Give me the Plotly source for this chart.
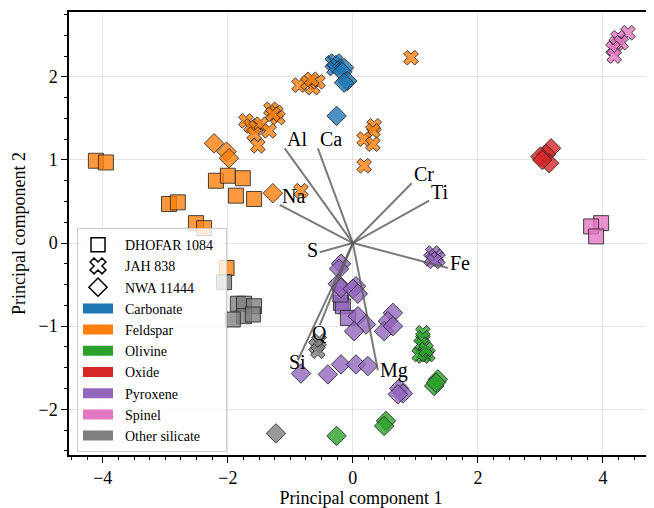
import plotly.graph_objects as go

# ---------------- data ----------------
METEORITES = ["DHOFAR 1084", "JAH 838", "NWA 11444"]
MINERALS = ["Carbonate", "Feldspar", "Olivine", "Oxide", "Pyroxene", "Spinel", "Other silicate"]

CARB_JAH_X = [-0.33, -0.28, -0.25, -0.30]
CARB_JAH_Y = [2.17, 2.19, 2.13, 2.10]
CARB_NWA_X = [-0.14, -0.17, -0.09, -0.14, -0.26]
CARB_NWA_Y = [2.11, 2.06, 1.95, 1.93, 1.53]

FELD_DHO_X = [-4.11, -3.95, -2.94, -2.80, -2.51, -2.38, -2.19, -2.00, -1.76, -1.87, -1.58, -2.02]
FELD_DHO_Y = [0.99, 0.97, 0.47, 0.49, 0.24, 0.18, 0.75, 0.81, 0.78, 0.57, 0.53, -0.30]
FELD_JAH_X = [0.93, -0.86, -0.72, -0.64, -0.56, -0.66, -1.31, -1.23, -1.20, -1.28, -1.71, -1.63,
              -1.55, -1.47, -1.34, -1.58, -1.52, 0.34, 0.32, 0.18, 0.32, 0.18, -0.83]
FELD_JAH_Y = [2.23, 1.90, 1.93, 1.87, 1.94, 1.97, 1.61, 1.57, 1.51, 1.55, 1.47, 1.41,
              1.39, 1.43, 1.35, 1.31, 1.17, 1.41, 1.35, 1.25, 1.19, 0.93, 0.63]
FELD_NWA_X = [-2.22, -2.02, -1.98, -1.28]
FELD_NWA_Y = [1.20, 1.10, 1.02, 0.60]

OLIV_JAH_X = [1.12, 1.12, 1.09, 1.14, 1.20, 1.12, 1.06, 1.17]
OLIV_JAH_Y = [-1.08, -1.14, -1.22, -1.33, -1.34, -1.36, -1.34, -1.28]
OLIV_NWA_X = [-0.26, 0.53, 0.50, 1.36, 1.30, 1.33]
OLIV_NWA_Y = [-2.32, -2.14, -2.20, -1.64, -1.72, -1.68]

OXID_NWA_X = [3.17, 3.09, 3.14, 3.00, 3.03]
OXID_NWA_Y = [1.14, 1.07, 0.96, 1.04, 1.00]

PYRO_DHO_X = [-0.19, -0.16, -0.08, -0.20]
PYRO_DHO_Y = [-0.72, -0.76, -0.90, -0.62]
PYRO_JAH_X = [1.28, 1.33, 1.25, 1.36, 1.30]
PYRO_JAH_Y = [-0.12, -0.16, -0.19, -0.19, -0.22]
PYRO_NWA_X = [-0.19, -0.22, -0.24, -0.19, 0.05, 0.00, 0.08, 0.08, 0.21, 0.02, 0.64, 0.56,
              0.50, 0.64, -0.83, -0.40, -0.19, 0.05, 0.24, 0.74, 0.80, 0.72]
PYRO_NWA_Y = [-0.25, -0.31, -0.49, -0.54, -0.52, -0.55, -0.61, -0.88, -0.98, -1.06, -0.84, -0.94,
              -1.06, -1.00, -1.57, -1.58, -1.46, -1.46, -1.48, -1.75, -1.81, -1.82]

SPIN_DHO_X = [3.97, 3.81, 3.89]
SPIN_DHO_Y = [0.24, 0.20, 0.08]
SPIN_JAH_X = [4.40, 4.24, 4.21, 4.29, 4.16, 4.18]
SPIN_JAH_Y = [2.53, 2.47, 2.40, 2.41, 2.34, 2.25]

OTHR_DHO_X = [-1.84, -1.74, -1.58, -1.74, -1.60, -2.06, -1.92]
OTHR_DHO_Y = [-0.73, -0.73, -0.76, -0.88, -0.86, -0.47, -0.92]
OTHR_JAH_X = [-0.54, -0.59, -0.56]
OTHR_JAH_Y = [-1.18, -1.24, -1.30]
OTHR_NWA_X = [-1.23]
OTHR_NWA_Y = [-2.29]

LOAD_NAMES = ["Al", "Ca", "Cr", "Ti", "Na", "S", "Fe", "Mg", "Si", "Q"]
LOAD_X = [-1.09, -0.56, 0.94, 1.22, -1.17, -0.53, 1.52, 0.40, -0.88, -0.53]
LOAD_Y = [1.14, 1.14, 0.72, 0.51, 0.46, -0.11, -0.30, -1.53, -1.41, -0.99]

# ---------------- styles ----------------
COLORS = {
    "Carbonate": "31,119,180", "Feldspar": "255,127,14", "Olivine": "44,160,44",
    "Oxide": "214,39,40", "Pyroxene": "148,103,189", "Spinel": "227,119,194",
    "Other silicate": "127,127,127",
}
SYMBOLS = {"DHOFAR 1084": "square", "JAH 838": "x", "NWA 11444": "diamond"}
SIZES = {"DHOFAR 1084": 15, "JAH 838": 13, "NWA 11444": 15}
FONT = "Liberation Serif, Times New Roman, serif"

GROUPS = [
    ("Carbonate", "JAH 838", CARB_JAH_X, CARB_JAH_Y),
    ("Carbonate", "NWA 11444", CARB_NWA_X, CARB_NWA_Y),
    ("Feldspar", "DHOFAR 1084", FELD_DHO_X, FELD_DHO_Y),
    ("Feldspar", "JAH 838", FELD_JAH_X, FELD_JAH_Y),
    ("Feldspar", "NWA 11444", FELD_NWA_X, FELD_NWA_Y),
    ("Olivine", "JAH 838", OLIV_JAH_X, OLIV_JAH_Y),
    ("Olivine", "NWA 11444", OLIV_NWA_X, OLIV_NWA_Y),
    ("Oxide", "NWA 11444", OXID_NWA_X, OXID_NWA_Y),
    ("Pyroxene", "DHOFAR 1084", PYRO_DHO_X, PYRO_DHO_Y),
    ("Pyroxene", "JAH 838", PYRO_JAH_X, PYRO_JAH_Y),
    ("Pyroxene", "NWA 11444", PYRO_NWA_X, PYRO_NWA_Y),
    ("Spinel", "DHOFAR 1084", SPIN_DHO_X, SPIN_DHO_Y),
    ("Spinel", "JAH 838", SPIN_JAH_X, SPIN_JAH_Y),
    ("Other silicate", "DHOFAR 1084", OTHR_DHO_X, OTHR_DHO_Y),
    ("Other silicate", "JAH 838", OTHR_JAH_X, OTHR_JAH_Y),
    ("Other silicate", "NWA 11444", OTHR_NWA_X, OTHR_NWA_Y),
]

fig = go.Figure()

for mineral, met, xs, ys in GROUPS:
    fig.add_trace(go.Scatter(
        x=xs, y=ys, mode="markers", showlegend=False,
        marker=dict(symbol=SYMBOLS[met], size=SIZES[met],
                    color=f"rgba({COLORS[mineral]},0.8)",
                    line=dict(color="rgba(40,40,40,0.85)", width=1)),
    ))

# loading vectors
lx, ly = [], []
for x, y in zip(LOAD_X, LOAD_Y):
    lx += [0, x, None]
    ly += [0, y, None]
fig.add_trace(go.Scatter(x=lx, y=ly, mode="lines", showlegend=False,
                         line=dict(color="rgba(90,90,90,0.8)", width=2)))

# label placement: (xanchor, yanchor, yshift in px)
ANCHORS = {"S": ("right", "middle", 2), "Si": ("center", "middle", -2), "Q": ("center", "top", 5),
           "Mg": ("left", "middle", 0), "Fe": ("left", "bottom", -8)}
for name, x, y in zip(LOAD_NAMES, LOAD_X, LOAD_Y):
    xa, ya, ys = ANCHORS.get(name, ("left", "bottom", -4))
    fig.add_annotation(x=x, y=y, text=name, showarrow=False, xanchor=xa, yanchor=ya,
                       yshift=ys, font=dict(family=FONT, size=20, color="black"))

# legend entries
for met in METEORITES:
    fig.add_trace(go.Scatter(
        x=[None], y=[None], mode="markers", name="\u00a0\u00a0" + met + "\u00a0\u00a0",
        marker=dict(symbol=SYMBOLS[met] + "-open", size=14, color="black",
                    line=dict(color="black", width=1.5)),
    ))
for mineral in MINERALS:
    fig.add_trace(go.Scatter(
        x=[None], y=[None], mode="lines", name="\u00a0\u00a0" + mineral,
        line=dict(color=f"rgb({COLORS[mineral]})", width=10),
    ))

axis_common = dict(
    automargin=False,
    showline=True, linecolor="black", linewidth=1.5, mirror=True,
    ticks="outside", ticklen=6, tickwidth=1.3, tickcolor="black",
    showgrid=True, gridcolor="rgba(0,0,0,0.1)", gridwidth=1,
    zeroline=False,
    tickfont=dict(family=FONT, size=18, color="black"),
    minor=dict(dtick=0.25, ticks="outside", ticklen=3.5, tickwidth=1, tickcolor="black", showgrid=False),
)

# the page body adds an 8px offset, so the figure is sized to fit the window
fig.update_layout(
    width=646, height=500,
    margin=dict(l=61, r=1, t=4, b=53, autoexpand=False),
    paper_bgcolor="white", plot_bgcolor="white",
    font=dict(family=FONT, color="black"),
    xaxis=dict(range=[-4.54, 4.8], dtick=2, tick0=0,
               title=dict(text="Principal component 1", font=dict(family=FONT, size=18), standoff=4),
               **axis_common),
    yaxis=dict(range=[-2.55, 2.78], dtick=1, tick0=0,
               title=dict(text="Principal component 2", font=dict(family=FONT, size=18), standoff=8),
               **axis_common),
    legend=dict(x=0.0137, y=0.512, xanchor="left", yanchor="top",
                bgcolor="rgba(255,255,255,0.8)", bordercolor="#cccccc", borderwidth=1,
                font=dict(family=FONT, size=14, color="black"), tracegroupgap=0),
)

fig.write_html("out.html")
